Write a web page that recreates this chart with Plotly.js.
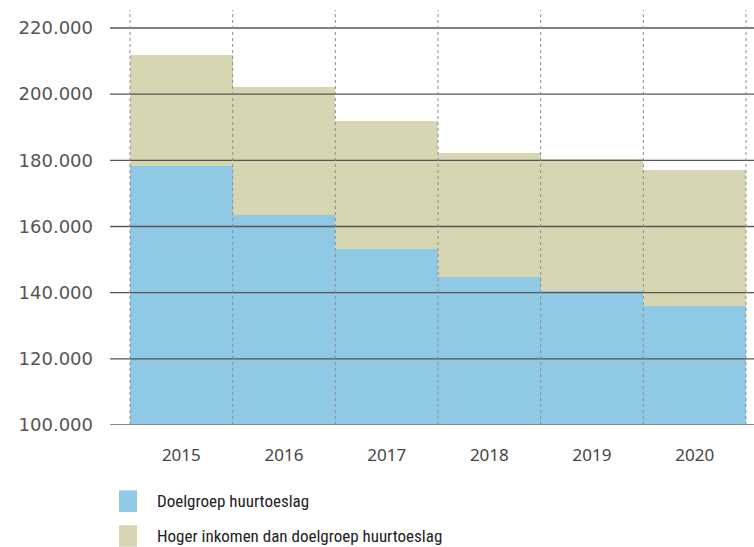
<!DOCTYPE html>
<html>
<head>
<meta charset="utf-8">
<script src="https://cdn.plot.ly/plotly-3.0.1.min.js"></script>
<style>html,body{margin:0;padding:0;background:#fff;}#chart{width:754px;height:547px;}</style>
</head>
<body>
<div id="chart"></div>
<script>
const years = ['2015', '2016', '2017', '2018', '2019', '2020'];
const doelgroep = [178300, 163500, 153200, 144700, 140400, 136000];
const hogerInkomen = [33500, 38700, 38700, 37500, 40000, 41100];
const seriesNames = ['Doelgroep huurtoeslag', 'Hoger inkomen dan doelgroep huurtoeslag'];
const seriesColors = ['#8fc9e6', '#d6d6b3'];
const yTicks = [100000, 120000, 140000, 160000, 180000, 200000, 220000];

const traces = [
  {type: 'bar', x: years, y: doelgroep, name: seriesNames[0], marker: {color: seriesColors[0], line: {width: 0}}, width: 1, hoverinfo: 'y'},
  {type: 'bar', x: years, y: hogerInkomen, name: seriesNames[1], marker: {color: seriesColors[1], line: {width: 0}}, width: 1, hoverinfo: 'y'}
];

const shapes = [];
// horizontal gridlines above the bars
yTicks.forEach((v, i) => {
  shapes.push({type: 'line', layer: 'above', xref: 'paper', yref: 'y', x0: 0, x1: 1, y0: v, y1: v,
    line: {color: i === 0 ? '#8a8a8a' : '#555555', width: i === 0 ? 2 : 1.3}});
});
// vertical dotted lines at category boundaries
for (let i = 0; i <= years.length; i++) {
  shapes.push({type: 'line', layer: 'above', xref: 'x', yref: 'paper', x0: i - 0.5, x1: i - 0.5, y0: 0, y1: 1,
    line: {color: '#8a8a8a', width: 1, dash: 'dot'}});
}
// custom legend swatches
const annotations = [];
const legY = [-0.1835, -0.2675];
seriesNames.forEach((n, i) => {
  shapes.push({type: 'rect', layer: 'above', xref: 'paper', yref: 'paper', x0: 0.014, x1: 0.042,
    y0: legY[i] - 0.026, y1: legY[i] + 0.026, fillcolor: seriesColors[i], line: {width: 0}});
  annotations.push({xref: 'paper', yref: 'paper', x: 0.0705, y: legY[i], xanchor: 'left', yanchor: 'middle',
    text: n, showarrow: false, font: {family: '"Liberation Sans Narrow", "Roboto Condensed", Roboto, sans-serif', size: 17, color: '#222'}});
});

const layout = {
  width: 754, height: 547,
  margin: {l: 110, r: 0, t: 10, b: 122},
  paper_bgcolor: '#fff', plot_bgcolor: '#fff',
  barmode: 'stack', bargap: 0,
  showlegend: false,
  separators: ',.',
  xaxis: {type: 'category', range: [-0.695, 5.578], showgrid: false, zeroline: false, showline: false,
    ticks: '', ticklabelstandoff: 18, tickfont: {family: '"Noto Sans", sans-serif', size: 17, color: '#444'}},
  yaxis: {range: [100000, 225440], tickvals: yTicks, tickformat: ',d', showgrid: false, zeroline: false, showline: false,
    ticks: '', ticklabelstandoff: 16, tickfont: {family: '"DejaVu Sans", sans-serif', size: 18, color: '#555'}},
  shapes: shapes,
  annotations: annotations
};

Plotly.newPlot('chart', traces, layout, {displayModeBar: false, staticPlot: true});
</script>
</body>
</html>
